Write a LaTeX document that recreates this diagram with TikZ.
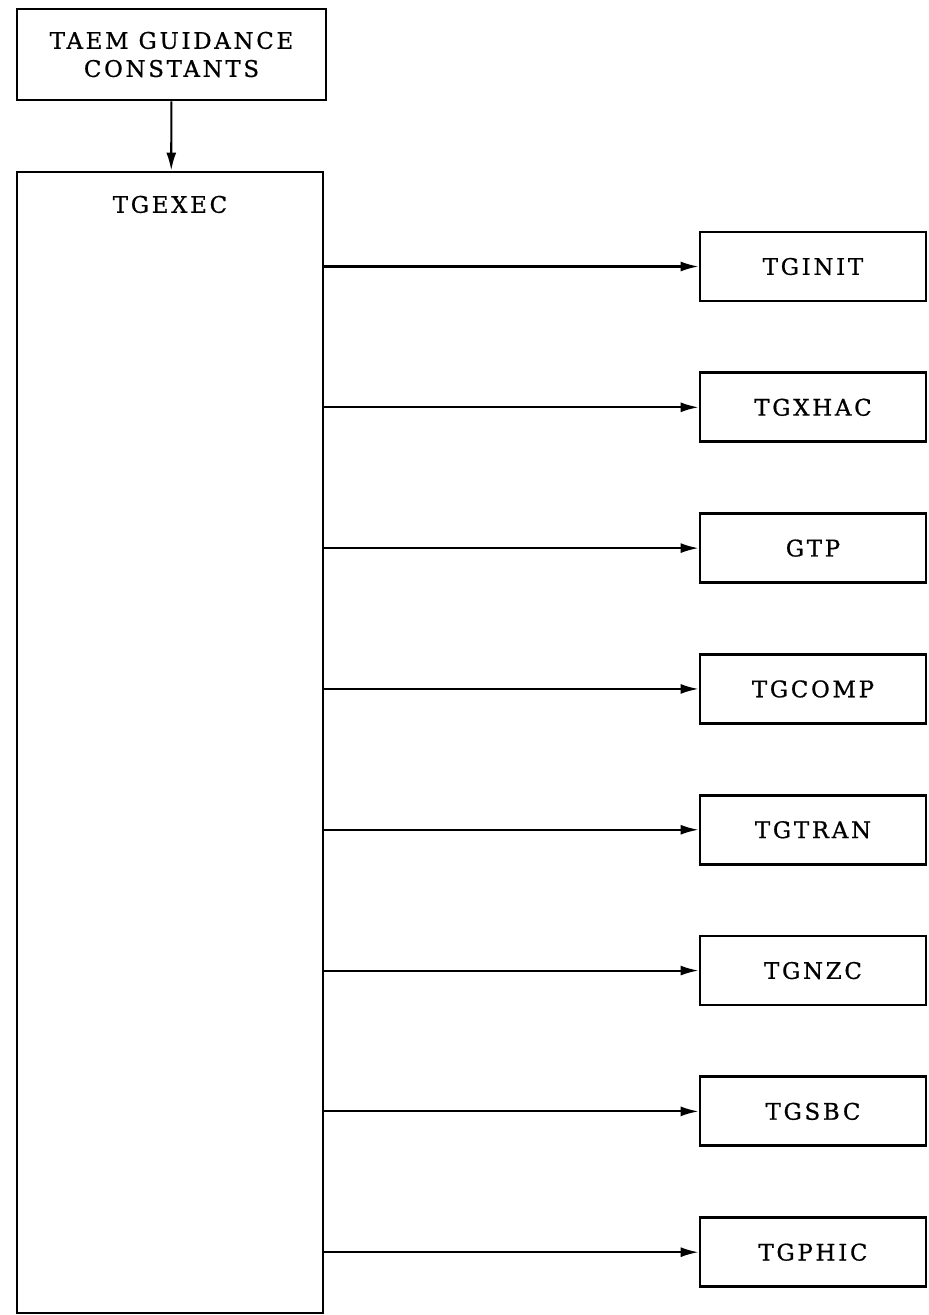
\documentclass[tikz,border=0pt]{standalone}
\usepackage{fontspec}
\setmainfont{DejaVu Serif}[LetterSpace=12, FakeBold=0.8]
\usepackage{tikz}
\usetikzlibrary{arrows.meta, positioning}

\begin{document}
\begin{tikzpicture}[
        font=\fontsize{13}{16}\selectfont,
        blk/.style={draw, line width=1.6pt, align=center, inner sep=0pt},
        sub/.style={blk, minimum width=4.52cm, minimum height=1.38cm},
        arr/.style={-{Latex[length=3.6mm,width=2mm]}, line width=1.2pt}
    ]
        \useasboundingbox (0,0) rectangle (18.56,-26.3);

        \node[blk, minimum width=6.18cm, minimum height=1.82cm] (const) at (3.43,-1.09) {TAEM GUIDANCE\\CONSTANTS};
        \node[blk, minimum width=6.12cm, minimum height=22.82cm,
            label={[anchor=north, yshift=-0.38cm]north:TGEXEC}] (exec) at (3.4,-14.85) {};

        \node[sub] (init) at (16.26,-5.33) {TGINIT};
        \node[sub, below=1.38cm of init] (xhac) {TGXHAC};
        \node[sub, below=1.38cm of xhac] (gtp) {GTP};
        \node[sub, below=1.38cm of gtp] (comp) {TGCOMP};
        \node[sub, below=1.38cm of comp] (tran) {TGTRAN};
        \node[sub, below=1.38cm of tran] (nzc) {TGNZC};
        \node[sub, below=1.38cm of nzc] (sbc) {TGSBC};
        \node[sub, below=1.38cm of sbc] (phic) {TGPHIC};

        \draw[arr] (const) -- (exec);
        \draw[arr] (init -| exec.east) -- (init);
        \draw[arr] (xhac -| exec.east) -- (xhac);
        \draw[arr] (gtp -| exec.east) -- (gtp);
        \draw[arr] (comp -| exec.east) -- (comp);
        \draw[arr] (tran -| exec.east) -- (tran);
        \draw[arr] (nzc -| exec.east) -- (nzc);
        \draw[arr] (sbc -| exec.east) -- (sbc);
        \draw[arr] (phic -| exec.east) -- (phic);
    \end{tikzpicture}
\end{document}
